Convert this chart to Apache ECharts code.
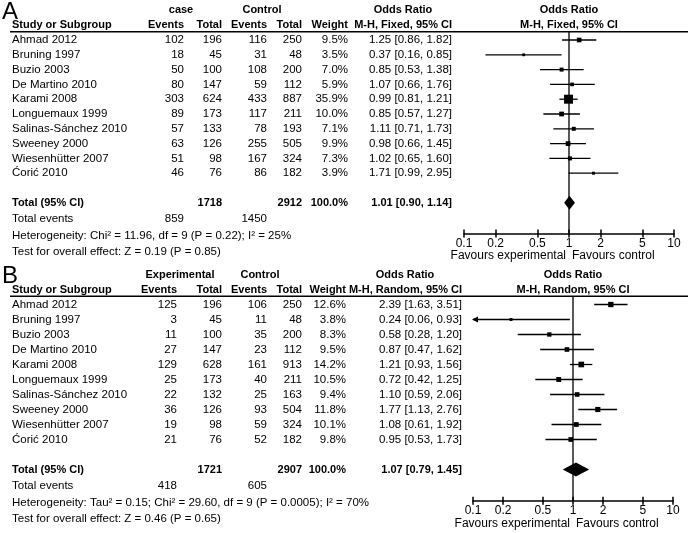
<!DOCTYPE html>
<html><head><meta charset="utf-8">
<script src="https://cdn.jsdelivr.net/npm/echarts@6/dist/echarts.min.js"></script>
<style>html,body{margin:0;padding:0;background:#fff}#c{width:688px;height:533px}</style>
</head><body><div id="c"></div>
<script>
// ---------------- DATA ----------------
const studies = ['Ahmad 2012','Bruning 1997','Buzio 2003','De Martino 2010','Karami 2008','Longuemaux 1999','Salinas-Sánchez 2010','Sweeney 2000','Wiesenhütter 2007','Ćorić 2010'];

// Panel A (M-H, Fixed)
const aExpEvents = [102,18,50,80,303,89,57,63,51,46];
const aExpTotal  = [196,45,100,147,624,173,133,126,98,76];
const aCtlEvents = [116,31,108,59,433,117,78,255,167,86];
const aCtlTotal  = [250,48,200,112,887,211,193,505,324,182];
const aWeight    = [9.5,3.5,7.0,5.9,35.9,10.0,7.1,9.9,7.3,3.9];
const aOR        = [1.25,0.37,0.85,1.07,0.99,0.85,1.11,0.98,1.02,1.71];
const aLo        = [0.86,0.16,0.53,0.66,0.81,0.57,0.71,0.66,0.65,0.99];
const aHi        = [1.82,0.85,1.38,1.76,1.21,1.27,1.73,1.45,1.60,2.95];
const aTotals      = [1718, 2912];
const aTotalEvents = [859, 1450];
const aPooled      = [1.01, 0.90, 1.14];
const aHet  = 'Heterogeneity: Chi² = 11.96, df = 9 (P = 0.22); I² = 25%';
const aTest = 'Test for overall effect: Z = 0.19 (P = 0.85)';

// Panel B (M-H, Random)
const bExpEvents = [125,3,11,27,129,25,22,36,19,21];
const bExpTotal  = [196,45,100,147,628,173,132,126,98,76];
const bCtlEvents = [106,11,35,23,161,40,25,93,59,52];
const bCtlTotal  = [250,48,200,112,913,211,163,504,324,182];
const bWeight    = [12.6,3.8,8.3,9.5,14.2,10.5,9.4,11.8,10.1,9.8];
const bOR        = [2.39,0.24,0.58,0.87,1.21,0.72,1.10,1.77,1.08,0.95];
const bLo        = [1.63,0.06,0.28,0.47,0.93,0.42,0.59,1.13,0.61,0.53];
const bHi        = [3.51,0.93,1.20,1.62,1.56,1.25,2.06,2.76,1.92,1.73];
const bTotals      = [1721, 2907];
const bTotalEvents = [418, 605];
const bPooled      = [1.07, 0.79, 1.45];
const bHet  = 'Heterogeneity: Tau² = 0.15; Chi² = 29.60, df = 9 (P = 0.0005); I² = 70%';
const bTest = 'Test for overall effect: Z = 0.46 (P = 0.65)';

const tickValues = [0.1,0.2,0.5,1,2,5,10];
const tickLabels = ['0.1','0.2','0.5','1','2','5','10'];

// ---------------- LAYOUT ----------------
const FONT = '"Liberation Sans", Arial, sans-serif';
const REG = 11.5, BOLD = 11, SMALL = 12;
const ROW_MIN = -2.5, ROW_MAX = 15, AXIS_ROW = 13.08;
const XMIN = 0.1, XMAX = 10;

const panels = [
  { letter:'A', group1:'case', group2:'Control', method:'M-H, Fixed, 95% CI',
    expE:aExpEvents, expT:aExpTotal, ctlE:aCtlEvents, ctlT:aCtlTotal, w:aWeight, or:aOR, lo:aLo, hi:aHi,
    totals:aTotals, totalEvents:aTotalEvents, pooled:aPooled, het:aHet, test:aTest,
    top:3, rowH:14.8, axisLeft:464, axisWidth:210,
    cols:[184,222,267,302,348], ciRight:452, orHead:403, grp:[181,262] },
  { letter:'B', group1:'Experimental', group2:'Control', method:'M-H, Random, 95% CI',
    expE:bExpEvents, expT:bExpTotal, ctlE:bCtlEvents, ctlT:bCtlTotal, w:bWeight, or:bOR, lo:bLo, hi:bHi,
    totals:bTotals, totalEvents:bTotalEvents, pooled:bPooled, het:bHet, test:bTest,
    top:267, rowH:15, axisLeft:473, axisWidth:200,
    cols:[177,222,267,302,346], ciRight:462, orHead:405, grp:[180,260] }
];

const fmtCI = (o,l,h) => o.toFixed(2)+' ['+l.toFixed(2)+', '+h.toFixed(2)+']';

function buildRows(P){
  const c = P.cols, rows = [];
  rows.push({row:-1.85, cells:[{text:P.letter, x:2, align:'left', size:24}]});
  rows.push({row:-2, cells:[
    {text:P.group1, x:P.grp[0], align:'center', bold:true},
    {text:P.group2, x:P.grp[1], align:'center', bold:true},
    {text:'Odds Ratio', x:P.orHead, align:'center', bold:true},
    {text:'Odds Ratio', dx:0, align:'center', bold:true}]});
  rows.push({row:-1, cells:[
    {text:'Study or Subgroup', x:12, align:'left', bold:true},
    {text:'Events', x:c[0], align:'right', bold:true},
    {text:'Total', x:c[1], align:'right', bold:true},
    {text:'Events', x:c[2], align:'right', bold:true},
    {text:'Total', x:c[3], align:'right', bold:true},
    {text:'Weight', x:c[4], align:'right', bold:true},
    {text:P.method, x:P.ciRight, align:'right', bold:true},
    {text:P.method, dx:0, align:'center', bold:true}]});
  rows.push({row:-0.55, rule:[10, 688], cells:[]});
  studies.forEach((s,i)=>{
    rows.push({row:i, cells:[
      {text:s, x:12, align:'left'},
      {text:String(P.expE[i]), x:c[0], align:'right'},
      {text:String(P.expT[i]), x:c[1], align:'right'},
      {text:String(P.ctlE[i]), x:c[2], align:'right'},
      {text:String(P.ctlT[i]), x:c[3], align:'right'},
      {text:P.w[i].toFixed(1)+'%', x:c[4], align:'right'},
      {text:fmtCI(P.or[i],P.lo[i],P.hi[i]), x:P.ciRight, align:'right'}]});
  });
  rows.push({row:11, cells:[
    {text:'Total (95% CI)', x:12, align:'left', bold:true},
    {text:String(P.totals[0]), x:c[1], align:'right', bold:true},
    {text:String(P.totals[1]), x:c[3], align:'right', bold:true},
    {text:'100.0%', x:c[4], align:'right', bold:true},
    {text:fmtCI(P.pooled[0],P.pooled[1],P.pooled[2]), x:P.ciRight, align:'right', bold:true}]});
  rows.push({row:12.1, cells:[
    {text:'Total events', x:12, align:'left'},
    {text:String(P.totalEvents[0]), x:c[0], align:'right'},
    {text:String(P.totalEvents[1]), x:c[2], align:'right'}]});
  rows.push({row:13.2, cells:[{text:P.het, x:12, align:'left'}]});
  rows.push({row:14.3, cells:[{text:P.test, x:12, align:'left'}]});
  rows.push({row:14.6, cells:[
    {text:'Favours experimental', dx:-3, align:'right', size:SMALL},
    {text:'Favours control', dx:3, align:'left', size:SMALL}]});
  return rows;
}

function fmtTick(v){
  let best = 0, bd = Infinity;
  tickValues.forEach((t,i)=>{ const d = Math.abs(Math.log(t)-Math.log(v)); if(d<bd){bd=d;best=i;} });
  return tickLabels[best];
}

const grids = [], xAxes = [], yAxes = [], series = [];
panels.forEach((P, g)=>{
  const h = (ROW_MAX-ROW_MIN)*P.rowH;
  grids.push({left:P.axisLeft, width:P.axisWidth, top:P.top, height:h, outerBoundsMode:'none', containLabel:false});
  xAxes.push({type:'log', logBase:10, min:XMIN, max:XMAX, gridIndex:g, position:'bottom',
    offset: -(ROW_MAX-AXIS_ROW)*P.rowH,
    axisLine:{show:true, onZero:false, lineStyle:{color:'#000', width:1.5}},
    axisTick:{show:true, length:4, customValues:tickValues, lineStyle:{color:'#000', width:1.5}},
    axisLabel:{show:true, customValues:tickValues, formatter:fmtTick, color:'#000', fontSize:SMALL, fontFamily:FONT, margin:4},
    splitLine:{show:false}, minorTick:{show:false}, minorSplitLine:{show:false}});
  xAxes.push({type:'log', logBase:10, min:XMIN, max:XMAX, gridIndex:g, position:'top',
    offset: -(AXIS_ROW-ROW_MIN)*P.rowH,
    axisLine:{show:false, onZero:false},
    axisTick:{show:true, length:4, customValues:tickValues, lineStyle:{color:'#000', width:1.5}},
    axisLabel:{show:false}, splitLine:{show:false}, minorTick:{show:false}});
  yAxes.push({type:'value', gridIndex:g, inverse:true, min:ROW_MIN, max:ROW_MAX, show:false, splitLine:{show:false}});

  const rows = buildRows(P);
  series.push({type:'custom', xAxisIndex:2*g, yAxisIndex:g, clip:false, silent:true, z:5,
    data: rows.map(r=>[1, r.row]),
    renderItem:(params, api)=>{
      const r = rows[params.dataIndex];
      const p = api.coord([1, api.value(1)]);
      const children = r.cells.map(cl=>({type:'text', style:{
        text:cl.text, x: cl.dx!=null ? p[0]+cl.dx : cl.x, y:p[1],
        align:cl.align, verticalAlign:'middle', fill:'#000',
        fontFamily: FONT, fontWeight: cl.bold?'bold':'normal',
        fontSize: cl.size || (cl.bold?BOLD:REG)}}));
      if(r.rule) children.push({type:'line', shape:{x1:r.rule[0], y1:p[1], x2:r.rule[1], y2:p[1]}, style:{stroke:'#000', lineWidth:1.5}});
      return {type:'group', children};
    }});

  // null line at OR = 1
  series.push({type:'custom', xAxisIndex:2*g, yAxisIndex:g, clip:false, silent:true,
    data:[[1, -0.55, AXIS_ROW]],
    renderItem:(params, api)=>{
      const a = api.coord([api.value(0), api.value(1)]);
      const b = api.coord([api.value(0), api.value(2)]);
      return {type:'line', shape:{x1:a[0], y1:a[1], x2:b[0], y2:b[1]}, style:{stroke:'#000', lineWidth:1.3}};
    }});

  // study CIs, boxes and pooled diamond
  const fdata = studies.map((s,i)=>[P.or[i], i, P.lo[i], P.hi[i], P.w[i], 0]);
  fdata.push([P.pooled[0], 11, P.pooled[1], P.pooled[2], 100, 1]);
  series.push({type:'custom', xAxisIndex:2*g, yAxisIndex:g, clip:false, silent:true, z:6,
    data:fdata,
    renderItem:(params, api)=>{
      const o=api.value(0), row=api.value(1), lo=api.value(2), hi=api.value(3), w=api.value(4), kind=api.value(5);
      const c = api.coord([o,row]);
      if(kind===1){
        const l = api.coord([lo,row]), r = api.coord([hi,row]);
        return {type:'polygon', shape:{points:[[l[0],c[1]],[c[0],c[1]-7],[r[0],c[1]],[c[0],c[1]+7]]}, style:{fill:'#000'}};
      }
      const l = api.coord([Math.max(lo,XMIN),row]), r = api.coord([Math.min(hi,XMAX),row]);
      const ch = [{type:'line', shape:{x1:l[0], y1:c[1], x2:r[0], y2:c[1]}, style:{stroke:'#000', lineWidth:1.3}}];
      if(lo<XMIN) ch.push({type:'polygon', shape:{points:[[l[0]-1,c[1]],[l[0]+5,c[1]-3],[l[0]+5,c[1]+3]]}, style:{fill:'#000'}});
      if(hi>XMAX) ch.push({type:'polygon', shape:{points:[[r[0]+1,c[1]],[r[0]-5,c[1]-3],[r[0]-5,c[1]+3]]}, style:{fill:'#000'}});
      const s = Math.max(2, 1.5*Math.sqrt(w));
      ch.push({type:'rect', shape:{x:c[0]-s/2, y:c[1]-s/2, width:s, height:s}, style:{fill:'#000'}});
      return {type:'group', children:ch};
    }});
});

const chart = echarts.init(document.getElementById('c'), null, {renderer:'canvas'});
chart.setOption({
  backgroundColor:'#fff', animation:false,
  grid:grids, xAxis:xAxes, yAxis:yAxes, series:series
});
</script></body></html>
